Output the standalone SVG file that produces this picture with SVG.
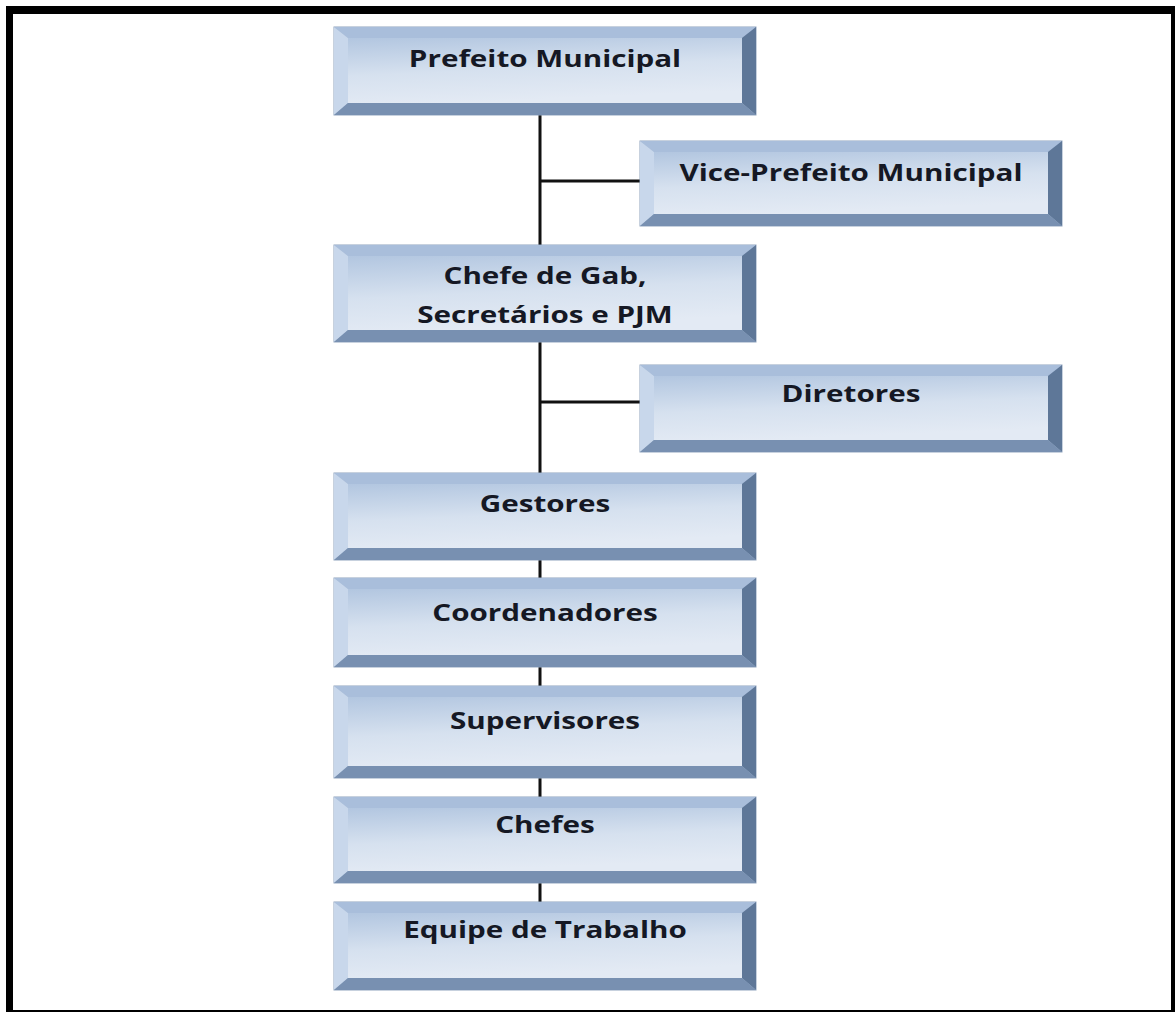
<svg xmlns="http://www.w3.org/2000/svg" width="1175" height="1012" viewBox="0 0 1175 1012">
  <defs>
    <linearGradient id="face" x1="0" y1="0" x2="0.25" y2="1">
      <stop offset="0" stop-color="#b2c6e0"/>
      <stop offset="0.55" stop-color="#d6e1ef"/>
      <stop offset="1" stop-color="#e3eaf4"/>
    </linearGradient>
    <style>
      .outer { fill: #9db3cf; stroke: #8fa3bd; stroke-width: 1; }
      .bt { fill: #a9bedb; }
      .bl { fill: #c8d7eb; }
      .br { fill: #5e7798; }
      .bb { fill: #7890b1; }
      .face { fill: url(#face); }
      .lbl { font-family: "Open Sans", "Liberation Sans", sans-serif; font-weight: bold; font-size: 24px; fill: #151824; text-anchor: middle; }
      .wire { stroke: #111; stroke-width: 3; fill: none; }
      .frame { fill: #000; }
    </style>
  </defs>

  <rect width="1175" height="1012" fill="#fff"/>

  <!-- page frame -->
  <g id="frame">
    <rect class="frame" x="6" y="6" width="1169" height="8"/>
    <rect class="frame" x="6" y="6" width="7" height="1006"/>
    <rect class="frame" x="1171" y="6" width="4" height="1006"/>
    <rect class="frame" x="6" y="1010" width="1169" height="2"/>
  </g>

  <!-- connectors -->
  <g id="connectors">
    <path class="wire" d="M540 115 V245 M540 181 H640"/>
    <path class="wire" d="M540 342 V473 M540 402 H640"/>
    <path class="wire" d="M540 560 V578 M540 667 V686 M540 778 V797 M540 883 V902"/>
  </g>

  <!-- Prefeito Municipal -->
  <g id="prefeito">
    <rect class="outer" x="334" y="27" width="422" height="88"/>
    <polygon class="bt" points="334,27 756,27 742,38 348,38"/>
    <polygon class="bl" points="334,27 348,38 348,103 334,115"/>
    <polygon class="br" points="756,27 756,115 742,103 742,38"/>
    <polygon class="bb" points="334,115 756,115 742,103 348,103"/>
    <rect class="face" x="348" y="38" width="394" height="65"/>
    <text class="lbl" transform="translate(545 67) scale(1.235 1)">Prefeito Municipal</text>
  </g>

  <!-- Vice-Prefeito Municipal -->
  <g id="vice">
    <rect class="outer" x="640" y="141" width="422" height="85"/>
    <polygon class="bt" points="640,141 1062,141 1048,152 654,152"/>
    <polygon class="bl" points="640,141 654,152 654,214 640,226"/>
    <polygon class="br" points="1062,141 1062,226 1048,214 1048,152"/>
    <polygon class="bb" points="640,226 1062,226 1048,214 654,214"/>
    <rect class="face" x="654" y="152" width="394" height="62"/>
    <text class="lbl" transform="translate(851 181) scale(1.235 1)">Vice-Prefeito Municipal</text>
  </g>

  <!-- Chefe de Gab, Secretários e PJM -->
  <g id="chefe-gab">
    <rect class="outer" x="334" y="245" width="422" height="97"/>
    <polygon class="bt" points="334,245 756,245 742,256 348,256"/>
    <polygon class="bl" points="334,245 348,256 348,330 334,342"/>
    <polygon class="br" points="756,245 756,342 742,330 742,256"/>
    <polygon class="bb" points="334,342 756,342 742,330 348,330"/>
    <rect class="face" x="348" y="256" width="394" height="74"/>
    <text class="lbl" transform="translate(545 284) scale(1.235 1)">Chefe de Gab,</text>
    <text class="lbl" transform="translate(545 323) scale(1.235 1)">Secretários e PJM</text>
  </g>

  <!-- Diretores -->
  <g id="diretores">
    <rect class="outer" x="640" y="365" width="422" height="87"/>
    <polygon class="bt" points="640,365 1062,365 1048,376 654,376"/>
    <polygon class="bl" points="640,365 654,376 654,440 640,452"/>
    <polygon class="br" points="1062,365 1062,452 1048,440 1048,376"/>
    <polygon class="bb" points="640,452 1062,452 1048,440 654,440"/>
    <rect class="face" x="654" y="376" width="394" height="64"/>
    <text class="lbl" transform="translate(851 402) scale(1.235 1)">Diretores</text>
  </g>

  <!-- Gestores -->
  <g id="gestores">
    <rect class="outer" x="334" y="473" width="422" height="87"/>
    <polygon class="bt" points="334,473 756,473 742,484 348,484"/>
    <polygon class="bl" points="334,473 348,484 348,548 334,560"/>
    <polygon class="br" points="756,473 756,560 742,548 742,484"/>
    <polygon class="bb" points="334,560 756,560 742,548 348,548"/>
    <rect class="face" x="348" y="484" width="394" height="64"/>
    <text class="lbl" transform="translate(545 512) scale(1.235 1)">Gestores</text>
  </g>

  <!-- Coordenadores -->
  <g id="coordenadores">
    <rect class="outer" x="334" y="578" width="422" height="89"/>
    <polygon class="bt" points="334,578 756,578 742,589 348,589"/>
    <polygon class="bl" points="334,578 348,589 348,655 334,667"/>
    <polygon class="br" points="756,578 756,667 742,655 742,589"/>
    <polygon class="bb" points="334,667 756,667 742,655 348,655"/>
    <rect class="face" x="348" y="589" width="394" height="66"/>
    <text class="lbl" transform="translate(545 621) scale(1.235 1)">Coordenadores</text>
  </g>

  <!-- Supervisores -->
  <g id="supervisores">
    <rect class="outer" x="334" y="686" width="422" height="92"/>
    <polygon class="bt" points="334,686 756,686 742,697 348,697"/>
    <polygon class="bl" points="334,686 348,697 348,766 334,778"/>
    <polygon class="br" points="756,686 756,778 742,766 742,697"/>
    <polygon class="bb" points="334,778 756,778 742,766 348,766"/>
    <rect class="face" x="348" y="697" width="394" height="69"/>
    <text class="lbl" transform="translate(545 729) scale(1.235 1)">Supervisores</text>
  </g>

  <!-- Chefes -->
  <g id="chefes">
    <rect class="outer" x="334" y="797" width="422" height="86"/>
    <polygon class="bt" points="334,797 756,797 742,808 348,808"/>
    <polygon class="bl" points="334,797 348,808 348,871 334,883"/>
    <polygon class="br" points="756,797 756,883 742,871 742,808"/>
    <polygon class="bb" points="334,883 756,883 742,871 348,871"/>
    <rect class="face" x="348" y="808" width="394" height="63"/>
    <text class="lbl" transform="translate(545 833) scale(1.235 1)">Chefes</text>
  </g>

  <!-- Equipe de Trabalho -->
  <g id="equipe">
    <rect class="outer" x="334" y="902" width="422" height="88"/>
    <polygon class="bt" points="334,902 756,902 742,913 348,913"/>
    <polygon class="bl" points="334,902 348,913 348,978 334,990"/>
    <polygon class="br" points="756,902 756,990 742,978 742,913"/>
    <polygon class="bb" points="334,990 756,990 742,978 348,978"/>
    <rect class="face" x="348" y="913" width="394" height="65"/>
    <text class="lbl" transform="translate(545 938) scale(1.235 1)">Equipe de Trabalho</text>
  </g>
</svg>
